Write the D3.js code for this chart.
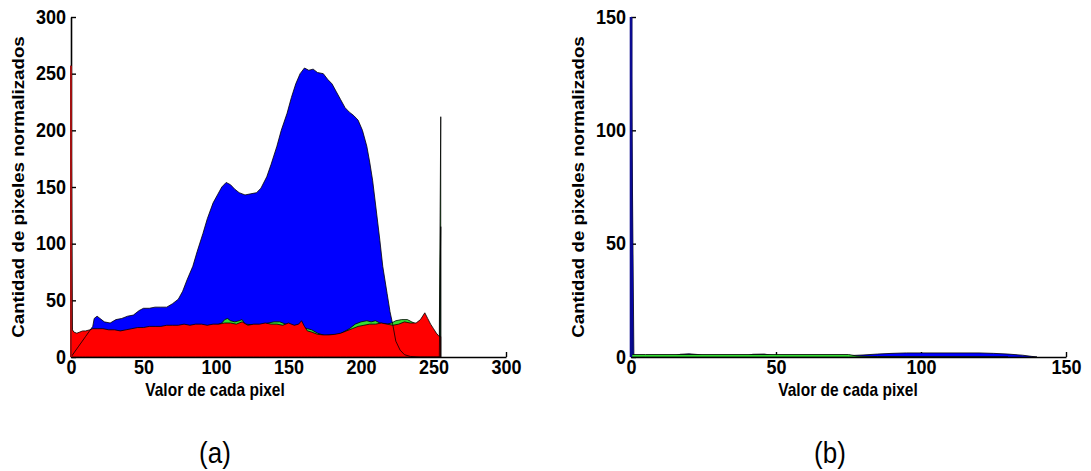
<!DOCTYPE html>
<html>
<head>
<meta charset="utf-8">
<script src="https://cdn.jsdelivr.net/npm/d3@7"></script>
<style>
  html, body { margin: 0; padding: 0; background: #fff; }
  svg { display: block; }
  text { font-family: "Liberation Sans", Arial, sans-serif; }
</style>
</head>
<body>
<svg id="chart" width="1091" height="471"></svg>
<script>
// ---------- DATA ----------
// Panel (a): histogram areas, [pixel value, normalized count]
const blueA = [[0,0],[5,9],[10,18],[15,27],[16,34],[18,36],[20,34],[23,31],[27,30],[31,33],[35,34],[39,36],[43,37],[47,41],[50,43],[54,43],[58,44],[62,44],[66,44],[70,47],[74,51],[77,58],[80,68],[84,80],[87,93],[91,109],[94,122],[98,136],[101,143],[104,150],[107,154],[110,152],[113,148],[116,145],[120,143],[124,144],[128,145],[131,149],[135,159],[138,170],[142,186],[145,200],[149,215],[152,229],[155,241],[158,250],[161,255],[164,253],[167,254],[170,251],[174,250],[177,245],[180,241],[183,234],[186,227],[189,220],[192,216],[195,213],[198,209],[201,200],[204,186],[206,172],[208,156],[210,135],[213,103],[215,80],[218,56],[220,40],[222,28],[224,14],[227,6],[230,2],[234,0.5],[240,0],[254,0],[255,115],[255,0]];
const greenA = [[0,0],[0,30],[1,20],[10,20],[20,22],[40,23],[60,25],[80,27],[100,28],[104,30],[106,33],[108,34],[110,32],[113,31],[116,32],[118,33],[120,29],[130,28],[136,30],[140,31],[144,31],[148,29],[156,27],[160,26],[163,25],[166,24],[170,21],[175,19],[185,20],[192,25],[196,29],[200,31],[204,32],[207,31],[210,32],[213,30],[218,29],[221,30],[224,32],[228,33],[232,33],[235,31],[240,28],[244,34],[248,27],[254,17],[255,212],[255,0]];
const redA = [[0,0],[0,257],[1,24],[2,22],[4,21],[6,22],[8,23],[10,23],[13,24],[15,25],[18,25],[22,25],[26,24],[30,24],[34,23],[38,24],[42,25],[46,26],[50,26],[54,27],[58,27],[62,27],[66,28],[70,28],[74,28],[78,29],[82,28],[86,29],[90,29],[94,28],[98,29],[102,29],[106,30],[110,30],[114,29],[118,31],[122,28],[126,29],[130,29],[134,30],[138,29],[142,29],[146,28],[150,30],[154,28],[157,29],[159,32],[161,27],[163,23],[166,22],[170,20],[174,19.5],[178,19.5],[182,20],[186,21],[190,23],[194,25],[198,27],[202,28],[206,29],[210,29],[214,30],[218,29],[222,28],[226,29],[230,31],[234,30],[238,30],[241,33],[244,39],[246,34],[248,29],[250,25],[252,21],[254,18],[255,18],[255,0]];

// Panel (b)
const blueB = [[0,0],[0,150],[1,0.5],[15,0.5],[17,1.2],[20,1.4],[23,1.1],[25,0.5],[40,0.5],[42,1.2],[46,1.3],[49,0.6],[60,0.5],[75,0.6],[80,0.9],[85,1.3],[90,1.6],[95,1.8],[100,1.8],[110,1.8],[120,1.8],[125,1.6],[130,1.3],[135,0.8],[138,0.3],[140,0]];
const greenB = [[0,0],[0,75],[0.4,1.1],[5,1.1],[20,1.1],[40,1.1],[60,1.1],[75,1.1],[78,0.4],[85,0.2],[100,0.1],[120,0.1],[130,0]];

const ticksA = [0,50,100,150,200,250,300];
const ticksB = [0,50,100,150];

const xLabel = "Valor de cada pixel";
const yLabel = "Cantidad de pixeles normalizados";
const panelNames = ["(a)", "(b)"];

// ---------- DRAW ----------
const svg = d3.select("#chart");
const FONT = '"Liberation Sans", Arial, sans-serif';

function panel(opts) {
  const x = d3.scaleLinear().domain(opts.xDomain).range(opts.xRange);
  const y = d3.scaleLinear().domain(opts.yDomain).range([357, 17]);
  const g = svg.append("g");

  const xAxis = d3.axisBottom(x).tickValues(opts.xTicks).tickSizeInner(-5).tickSizeOuter(0).tickPadding(2);
  const yAxis = d3.axisLeft(y).tickValues(opts.yTicks).tickSizeInner(-5).tickSizeOuter(0).tickPadding(5);

  const gx = g.append("g").attr("transform", `translate(0,${y(0)})`).call(xAxis);
  const gy = g.append("g").attr("transform", `translate(${x(0)},0)`).call(yAxis);
  [gx, gy].forEach(a => {
    a.select(".domain").attr("stroke", "#000").attr("stroke-width", 1.6);
    a.selectAll(".tick line").attr("stroke", "#000").attr("stroke-width", 1.4);
    a.selectAll(".tick text")
      .attr("fill", "#000")
      .attr("transform", "scale(1,1.12)")
      .style("font-size", "18px")
      .style("font-weight", "bold")
      .style("font-family", FONT);
  });
  gy.selectAll(".tick text").attr("dy", "0.3em");

  const area = d3.area()
    .x(d => x(d[0]))
    .y0(y(0))
    .y1(d => y(d[1]));
  const line = d3.line()
    .x(d => x(d[0]))
    .y(d => y(d[1]));

  // fills in drawing order, each with a thin black edge
  opts.series.forEach(s => {
    g.append("path")
      .datum(s.data)
      .attr("d", area)
      .attr("fill", s.color)
      .attr("stroke", s.edgeOnTop ? "none" : "#000")
      .attr("stroke-width", 0.8)
      .attr("stroke-linejoin", "round");
  });
  // edges that show through the later fills
  opts.series.filter(s => s.edgeOnTop).forEach(s => {
    g.append("path")
      .datum(s.data)
      .attr("d", line)
      .attr("fill", "none")
      .attr("stroke", "#000")
      .attr("stroke-width", 0.8)
      .attr("stroke-linejoin", "round");
  });
  // spike at pixel value 0 lying on the y axis
  const sp = opts.spike;
  const spikeTop = d3.max(sp.data.filter(d => d[0] === 0), d => d[1]);
  g.append("line")
    .attr("x1", x(0)).attr("x2", x(0))
    .attr("y1", y(0)).attr("y2", y(spikeTop))
    .attr("stroke", sp.color)
    .attr("stroke-width", sp.width);

  g.append("text")
    .attr("transform", `translate(${opts.xLabelX},396) scale(1,1.15)`)
    .attr("text-anchor", "middle")
    .style("font-size", "15.5px")
    .style("font-weight", "bold")
    .text(xLabel);

  g.append("text")
    .attr("transform", `translate(${opts.yLabelX},187) scale(1,1.17) rotate(-90)`)
    .attr("text-anchor", "middle")
    .attr("dy", "0.36em")
    .style("font-size", "16px")
    .style("font-weight", "bold")
    .text(yLabel);

  g.append("text")
    .attr("transform", `translate(${opts.nameX},463) scale(1,1.15)`)
    .attr("text-anchor", "middle")
    .style("font-size", "26px")
    .text(opts.name);
}

panel({
  xDomain: [0, 300], xRange: [71, 506], yDomain: [0, 300],
  xTicks: ticksA, yTicks: ticksA,
  series: [
    { data: blueA, color: "#0000ff", edgeOnTop: true },
    { data: greenA, color: "#33dd33" },
    { data: redA, color: "#ff0000" }
  ],
  spike: { data: redA, color: "#a01010", width: 2 },
  xLabelX: 215, yLabelX: 18, nameX: 215, name: panelNames[0]
});

panel({
  xDomain: [0, 150], xRange: [631, 1066], yDomain: [0, 150],
  xTicks: ticksB, yTicks: ticksB,
  series: [
    { data: blueB, color: "#0000ff" },
    { data: greenB, color: "#33dd33" }
  ],
  spike: { data: blueB, color: "#0a0a90", width: 2.6 },
  xLabelX: 848, yLabelX: 578, nameX: 830, name: panelNames[1]
});
</script>
</body>
</html>
